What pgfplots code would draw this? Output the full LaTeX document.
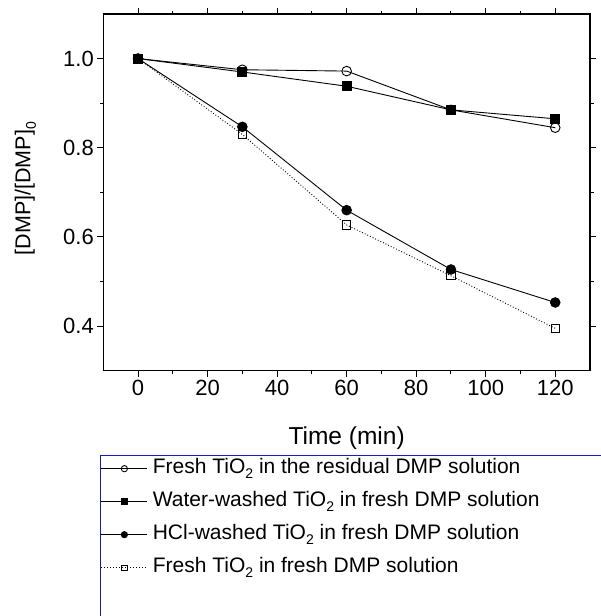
\documentclass[border=0pt]{standalone}
\usepackage{pgfplots}
\pgfplotsset{compat=1.18}
\usepackage{fontspec}
\setmainfont{Liberation Sans}
\definecolor{legblue}{rgb}{0.1,0.1,0.75}
\newcommand\sub[1]{\raisebox{-0.5ex}{\fontsize{14}{14}\selectfont #1}}
\begin{document}
\begin{tikzpicture}
\begin{axis}[
  at={(0,0)}, anchor=south west,
  scale only axis,
  width=486.7pt, height=356.7pt,
  xmin=-10, xmax=130, ymin=0.3, ymax=1.1,
  xtick={0,20,...,120}, ytick={0.4,0.6,0.8,1.0},
  minor x tick num=1, minor y tick num=1,
  tick align=outside,
  major tick length=6pt, minor tick length=3.5pt,
  axis line style={line width=1.2pt},
  every tick/.style={line width=1.1pt, black},
  /pgf/number format/assume math mode=true,
  yticklabel style={/pgf/number format/.cd, fixed, fixed zerofill, precision=1},
  tick label style={font=\fontsize{22}{26}\selectfont},
  xlabel={Time (min)},
  ylabel={[DMP]/[DMP]\sub{0}},
  every axis x label/.style={at={(0.5,-0.189)}, anchor=center, font=\fontsize{24.5}{28}\selectfont},
  every axis y label/.style={at={(-0.16,0.51)}, anchor=center, rotate=90, font=\fontsize{21.5}{26}\selectfont},
  legend cell align=left,
  legend style={at={(-0.0053,-0.2363)}, anchor=north west, draw=none,
    inner sep=0pt, row sep=6pt, fill=none,
    font=\fontsize{21}{25}\selectfont,
    nodes={text height=15pt, text depth=6pt, inner ysep=3pt, inner xsep=5pt}},
  legend image code/.code={\draw[mark repeat=2,mark phase=2,#1,every mark/.append style={scale=0.65}] plot coordinates {(0pt,0pt) (23pt,0pt) (46pt,0pt)};},
]
\addplot[black, line width=0.9pt, mark=o, mark size=4.8pt, mark options={fill=white, solid}]
  coordinates {(0,1.0) (30,0.975) (60,0.972) (90,0.885) (120,0.845)};
\addlegendentry{Fresh TiO\sub{2} in the residual DMP solution}
\addplot[black, line width=0.9pt, mark=square*, mark size=4.5pt, mark options={fill=black, solid}]
  coordinates {(0,1.0) (30,0.970) (60,0.938) (90,0.885) (120,0.865)};
\addlegendentry{Water-washed TiO\sub{2} in fresh DMP solution}
\addplot[black, line width=0.9pt, mark=*, mark size=4.8pt, mark options={fill=black, solid}]
  coordinates {(0,1.0) (30,0.847) (60,0.660) (90,0.527) (120,0.453)};
\addlegendentry{HCl-washed TiO\sub{2} in fresh DMP solution}
\addplot[black, line width=0.9pt, dotted, mark=square, mark size=4.2pt, mark options={fill=white, solid}]
  coordinates {(0,1.0) (30,0.830) (60,0.627) (90,0.513) (120,0.395)};
\addlegendentry{Fresh TiO\sub{2} in fresh DMP solution}
\end{axis}
\draw[legblue, line width=1pt] (-2.6pt,-250pt) -- (-2.6pt,-84.3pt) -- (510pt,-84.3pt);
\pgfresetboundingbox
\path (-103.3pt,-245.3pt) rectangle (497.7pt,370.7pt);
\end{tikzpicture}
\end{document}
